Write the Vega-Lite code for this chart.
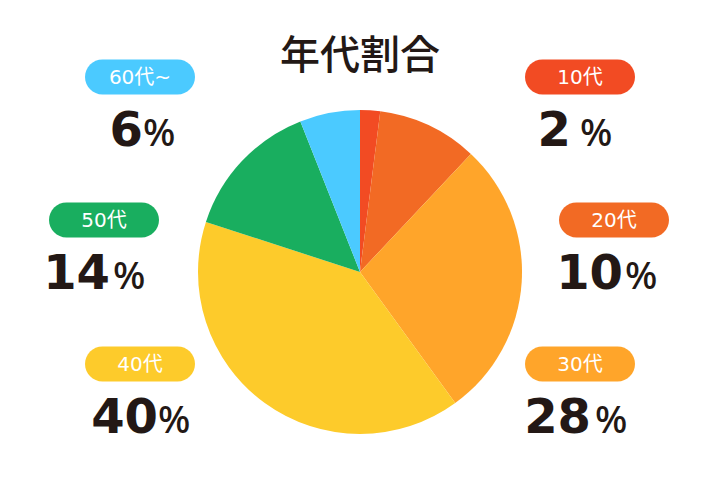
{
  "$schema": "https://vega.github.io/schema/vega-lite/v6.json",
  "width": 720,
  "height": 416,
  "autosize": {"type": "none"},
  "padding": {"top": 64, "left": 0, "right": 0, "bottom": 0},
  "background": "white",
  "config": {
    "view": {"stroke": null},
    "range": {"category": ["#F24B23", "#F26A24", "#FFA52A", "#FDCB2B", "#19AE5F", "#4BCAFF"]},
    "point": {"shape": "M -0.682 -0.318 L 0.682 -0.318 A 0.318 0.318 0 0 1 0.682 0.318 L -0.682 0.318 A 0.318 0.318 0 0 1 -0.682 -0.318 Z", "filled": true, "size": 12100, "opacity": 1, "strokeWidth": 0},
    "scale": {"pointPadding": 0},
    "axis": {"disable": true}
  },
  "title": {
    "text": "年代割合",
    "font": "Noto Sans CJK JP",
    "fontSize": 40,
    "fontWeight": 500,
    "color": "#231815",
    "anchor": "middle",
    "baseline": "middle",
    "offset": -37
  },
  "data": {
    "values": [
      {"age": "10代", "pct": 2},
      {"age": "20代", "pct": 10},
      {"age": "30代", "pct": 28},
      {"age": "40代", "pct": 40},
      {"age": "50代", "pct": 14},
      {"age": "60代~", "pct": 6}
    ]
  },
  "layer": [
    {
      "mark": {"type": "arc", "radius": 162},
      "encoding": {
        "theta": {"field": "pct", "type": "quantitative", "stack": true},
        "color": {"field": "age", "type": "nominal", "legend": null},
        "order": {"field": "age", "sort": "ascending"}
      }
    },
    {
      "transform": [{"filter": "datum.age == '60代~' || datum.age == '10代'"}],
      "mark": {"type": "point"},
      "encoding": {
        "x": {"field": "age", "type": "nominal", "scale": {"type": "point", "domain": ["60代~", "10代"], "range": [140, 580]}},
        "y": {"field": "age", "type": "nominal", "scale": {"type": "point", "domain": ["60代~", "10代"], "range": [13, 13]}},
        "color": {"field": "age", "type": "nominal", "legend": null}
      }
    },
    {
      "transform": [{"filter": "datum.age == '50代' || datum.age == '20代'"}],
      "mark": {"type": "point"},
      "encoding": {
        "x": {"field": "age", "type": "nominal", "scale": {"type": "point", "domain": ["50代", "20代"], "range": [104, 614]}},
        "y": {"field": "age", "type": "nominal", "scale": {"type": "point", "domain": ["50代", "20代"], "range": [156, 156]}},
        "color": {"field": "age", "type": "nominal", "legend": null}
      }
    },
    {
      "transform": [{"filter": "datum.age == '40代' || datum.age == '30代'"}],
      "mark": {"type": "point"},
      "encoding": {
        "x": {"field": "age", "type": "nominal", "scale": {"type": "point", "domain": ["40代", "30代"], "range": [140, 580]}},
        "y": {"field": "age", "type": "nominal", "scale": {"type": "point", "domain": ["40代", "30代"], "range": [300, 300]}},
        "color": {"field": "age", "type": "nominal", "legend": null}
      }
    },
    {
      "transform": [{"filter": "datum.age == '60代~' || datum.age == '10代'"}],
      "mark": {"type": "text", "font": "DejaVu Sans, Noto Sans CJK JP", "fontSize": 20, "color": "white", "align": "center", "baseline": "middle", "dy": 1},
      "encoding": {
        "x": {"field": "age", "type": "nominal", "scale": {"type": "point", "domain": ["60代~", "10代"], "range": [140, 580]}},
        "y": {"field": "age", "type": "nominal", "scale": {"type": "point", "domain": ["60代~", "10代"], "range": [13, 13]}},
        "text": {"field": "age", "type": "nominal"}
      }
    },
    {
      "transform": [{"filter": "datum.age == '50代' || datum.age == '20代'"}],
      "mark": {"type": "text", "font": "DejaVu Sans, Noto Sans CJK JP", "fontSize": 20, "color": "white", "align": "center", "baseline": "middle", "dy": 1},
      "encoding": {
        "x": {"field": "age", "type": "nominal", "scale": {"type": "point", "domain": ["50代", "20代"], "range": [104, 614]}},
        "y": {"field": "age", "type": "nominal", "scale": {"type": "point", "domain": ["50代", "20代"], "range": [156, 156]}},
        "text": {"field": "age", "type": "nominal"}
      }
    },
    {
      "transform": [{"filter": "datum.age == '40代' || datum.age == '30代'"}],
      "mark": {"type": "text", "font": "DejaVu Sans, Noto Sans CJK JP", "fontSize": 20, "color": "white", "align": "center", "baseline": "middle", "dy": 1},
      "encoding": {
        "x": {"field": "age", "type": "nominal", "scale": {"type": "point", "domain": ["40代", "30代"], "range": [140, 580]}},
        "y": {"field": "age", "type": "nominal", "scale": {"type": "point", "domain": ["40代", "30代"], "range": [300, 300]}},
        "text": {"field": "age", "type": "nominal"}
      }
    },
    {
      "transform": [{"filter": "datum.age == '60代~' || datum.age == '10代'"}],
      "mark": {"type": "text", "font": "DejaVu Sans", "fontSize": 48, "fontWeight": "bold", "color": "#231815", "align": "right", "baseline": "alphabetic"},
      "encoding": {
        "x": {"field": "age", "type": "nominal", "scale": {"type": "point", "domain": ["60代~", "10代"], "range": [143, 571]}},
        "y": {"field": "age", "type": "nominal", "scale": {"type": "point", "domain": ["60代~", "10代"], "range": [82, 82]}},
        "text": {"field": "pct", "type": "quantitative"}
      }
    },
    {
      "transform": [{"filter": "datum.age == '50代' || datum.age == '20代'"}],
      "mark": {"type": "text", "font": "DejaVu Sans", "fontSize": 48, "fontWeight": "bold", "color": "#231815", "align": "right", "baseline": "alphabetic"},
      "encoding": {
        "x": {"field": "age", "type": "nominal", "scale": {"type": "point", "domain": ["50代", "20代"], "range": [110, 623]}},
        "y": {"field": "age", "type": "nominal", "scale": {"type": "point", "domain": ["50代", "20代"], "range": [225, 225]}},
        "text": {"field": "pct", "type": "quantitative"}
      }
    },
    {
      "transform": [{"filter": "datum.age == '40代' || datum.age == '30代'"}],
      "mark": {"type": "text", "font": "DejaVu Sans", "fontSize": 48, "fontWeight": "bold", "color": "#231815", "align": "right", "baseline": "alphabetic"},
      "encoding": {
        "x": {"field": "age", "type": "nominal", "scale": {"type": "point", "domain": ["40代", "30代"], "range": [158, 591]}},
        "y": {"field": "age", "type": "nominal", "scale": {"type": "point", "domain": ["40代", "30代"], "range": [369, 369]}},
        "text": {"field": "pct", "type": "quantitative"}
      }
    },
    {
      "transform": [{"filter": "datum.age == '60代~' || datum.age == '10代'"}],
      "mark": {"type": "text", "text": "%", "font": "Noto Sans", "fontSize": 38, "fontWeight": 500, "color": "#231815", "align": "left", "baseline": "alphabetic"},
      "encoding": {
        "x": {"field": "age", "type": "nominal", "scale": {"type": "point", "domain": ["60代~", "10代"], "range": [143, 580]}},
        "y": {"field": "age", "type": "nominal", "scale": {"type": "point", "domain": ["60代~", "10代"], "range": [82, 82]}}
      }
    },
    {
      "transform": [{"filter": "datum.age == '50代' || datum.age == '20代'"}],
      "mark": {"type": "text", "text": "%", "font": "Noto Sans", "fontSize": 38, "fontWeight": 500, "color": "#231815", "align": "left", "baseline": "alphabetic"},
      "encoding": {
        "x": {"field": "age", "type": "nominal", "scale": {"type": "point", "domain": ["50代", "20代"], "range": [113, 625]}},
        "y": {"field": "age", "type": "nominal", "scale": {"type": "point", "domain": ["50代", "20代"], "range": [225, 225]}}
      }
    },
    {
      "transform": [{"filter": "datum.age == '40代' || datum.age == '30代'"}],
      "mark": {"type": "text", "text": "%", "font": "Noto Sans", "fontSize": 38, "fontWeight": 500, "color": "#231815", "align": "left", "baseline": "alphabetic"},
      "encoding": {
        "x": {"field": "age", "type": "nominal", "scale": {"type": "point", "domain": ["40代", "30代"], "range": [158, 595]}},
        "y": {"field": "age", "type": "nominal", "scale": {"type": "point", "domain": ["40代", "30代"], "range": [369, 369]}}
      }
    }
  ],
  "resolve": {"scale": {"x": "independent", "y": "independent"}}
}
